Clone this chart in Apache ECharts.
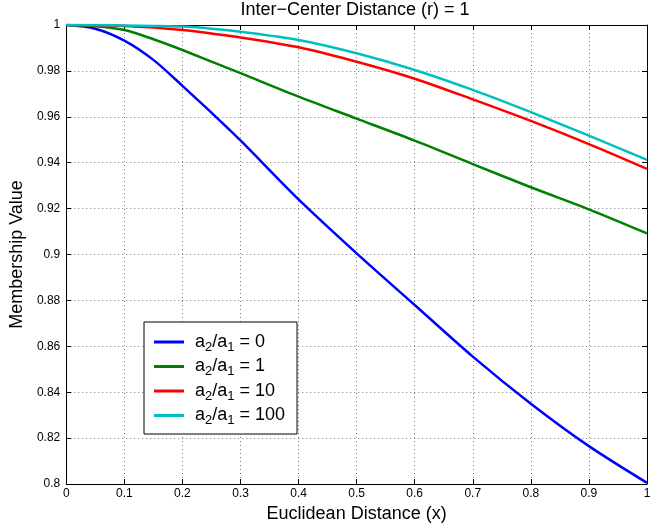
<!DOCTYPE html>
<html>
<head>
<meta charset="utf-8">
<script src="https://cdn.jsdelivr.net/npm/echarts@6/dist/echarts.min.js"></script>
<style>
html,body{margin:0;padding:0;background:#fff;}
#chart{width:670px;height:528px;}
</style>
</head>
<body>
<div id="chart"></div>
<script>
// ---- data ----
const titleText = 'Inter\u2212Center Distance (r) = 1';
const xName = 'Euclidean Distance (x)';
const yName = 'Membership Value';
const legendRatios = ['0', '1', '10', '100'];

const blueX  = [0, 0.05, 0.1, 0.15, 0.2, 0.25, 0.3, 0.4, 0.5, 0.6, 0.7, 0.8, 0.9, 1.0];
const blueY  = [1, 0.9984, 0.9932, 0.9848, 0.9735, 0.9618, 0.9497, 0.924, 0.9005, 0.878, 0.8555, 0.835, 0.8165, 0.8005];

const greenX = [0, 0.05, 0.1, 0.15, 0.2, 0.3, 0.4, 0.5, 0.6, 0.7, 0.8, 0.9, 1.0];
const greenY = [1, 0.9995, 0.9978, 0.9938, 0.9891, 0.979, 0.9688, 0.9592, 0.9496, 0.9394, 0.9293, 0.9197, 0.9092];

const redX   = [0, 0.05, 0.1, 0.15, 0.2, 0.25, 0.3, 0.4, 0.5, 0.6, 0.7, 0.8, 0.9, 1.0];
const redY   = [1, 0.9999, 0.9996, 0.9989, 0.9978, 0.9963, 0.9946, 0.9903, 0.984, 0.9766, 0.9676, 0.9582, 0.9481, 0.9373];

const cyanX  = [0, 0.05, 0.1, 0.15, 0.2, 0.25, 0.3, 0.4, 0.5, 0.6, 0.7, 0.8, 0.9, 1.0];
const cyanY  = [1, 1.0, 0.9998, 0.9996, 0.9993, 0.9984, 0.9971, 0.9935, 0.9877, 0.9804, 0.9717, 0.962, 0.9518, 0.9412];

const xTicks = { min: 0, max: 1, interval: 0.1 };
const yTicks = { min: 0.8, max: 1, interval: 0.02 };

const colors = ['#0000ff', '#008000', '#ff0000', '#00bfbf'];

function pairs(xs, ys) { return xs.map((x, i) => [x, ys[i]]); }

const seriesData = [pairs(blueX, blueY), pairs(greenX, greenY), pairs(redX, redY), pairs(cyanX, cyanY)];
const names = legendRatios.map(r => 'a2/a1 = ' + r);

const font = 'Arial, "Liberation Sans", Helvetica, sans-serif';

const chart = echarts.init(document.getElementById('chart'));

const tickStyle = { inside: true, length: 5, lineStyle: { color: '#000', width: 1 } };
const axisLine = { show: true, onZero: false, lineStyle: { color: '#000', width: 1 } };
const gridLine = { show: true, lineStyle: { color: '#777', width: 1, type: [1, 3] } };

chart.setOption({
  animation: false,
  backgroundColor: '#fff',
  graphic: [{
    type: 'text', x: 355, y: 1,
    style: { text: titleText, font: '18px ' + font, fill: '#000', textAlign: 'center', textVerticalAlign: 'top' }
  }],
  grid: { left: 64, right: 23, top: 25, bottom: 44, containLabel: false },
  xAxis: [{
    type: 'value', min: xTicks.min, max: xTicks.max, interval: xTicks.interval,
    name: xName, nameLocation: 'middle', nameGap: 17,
    nameTextStyle: { fontFamily: font, fontSize: 18, color: '#000' },
    axisLine: axisLine, axisTick: tickStyle, splitLine: gridLine,
    axisLabel: { fontFamily: font, fontSize: 12, color: '#000', margin: 4,
      formatter: v => String(+v.toFixed(2)) }
  }, {
    type: 'value', position: 'top', min: xTicks.min, max: xTicks.max, interval: xTicks.interval,
    axisLine: axisLine, axisTick: tickStyle, splitLine: { show: false }, axisLabel: { show: false }
  }],
  yAxis: [{
    type: 'value', min: yTicks.min, max: yTicks.max, interval: yTicks.interval,
    name: yName, nameLocation: 'middle', nameGap: 31,
    nameTextStyle: { fontFamily: font, fontSize: 18, color: '#000' },
    axisLine: axisLine, axisTick: tickStyle, splitLine: gridLine,
    axisLabel: { fontFamily: font, fontSize: 12, color: '#000', margin: 6,
      formatter: v => String(+v.toFixed(2)) }
  }, {
    type: 'value', position: 'right', min: yTicks.min, max: yTicks.max, interval: yTicks.interval,
    axisLine: axisLine, axisTick: tickStyle, splitLine: { show: false }, axisLabel: { show: false }
  }],
  legend: {
    orient: 'vertical', left: 144, top: 322,
    backgroundColor: '#fff', borderColor: '#000', borderWidth: 1, borderRadius: 0,
    padding: [11, 12, 7, 10], itemGap: 4, itemWidth: 30, itemHeight: 3,
    icon: 'rect',
    data: names,
    formatter: function (name) {
      const r = name.split('= ')[1];
      return 'a{sub|2}/a{sub|1} = ' + r;
    },
    textStyle: {
      fontFamily: font, fontSize: 18, color: '#000', padding: [0, 0, 0, 6],
      rich: { sub: { fontFamily: font, fontSize: 13, color: '#000', padding: [10, 0, 0, 0] } }
    }
  },
  series: seriesData.map((d, i) => ({
    name: names[i], type: 'line', data: d, smooth: 0.3, symbol: 'none',
    lineStyle: { color: colors[i], width: 2.5 }, itemStyle: { color: colors[i] },
    clip: true
  }))
});
</script>
</body>
</html>
